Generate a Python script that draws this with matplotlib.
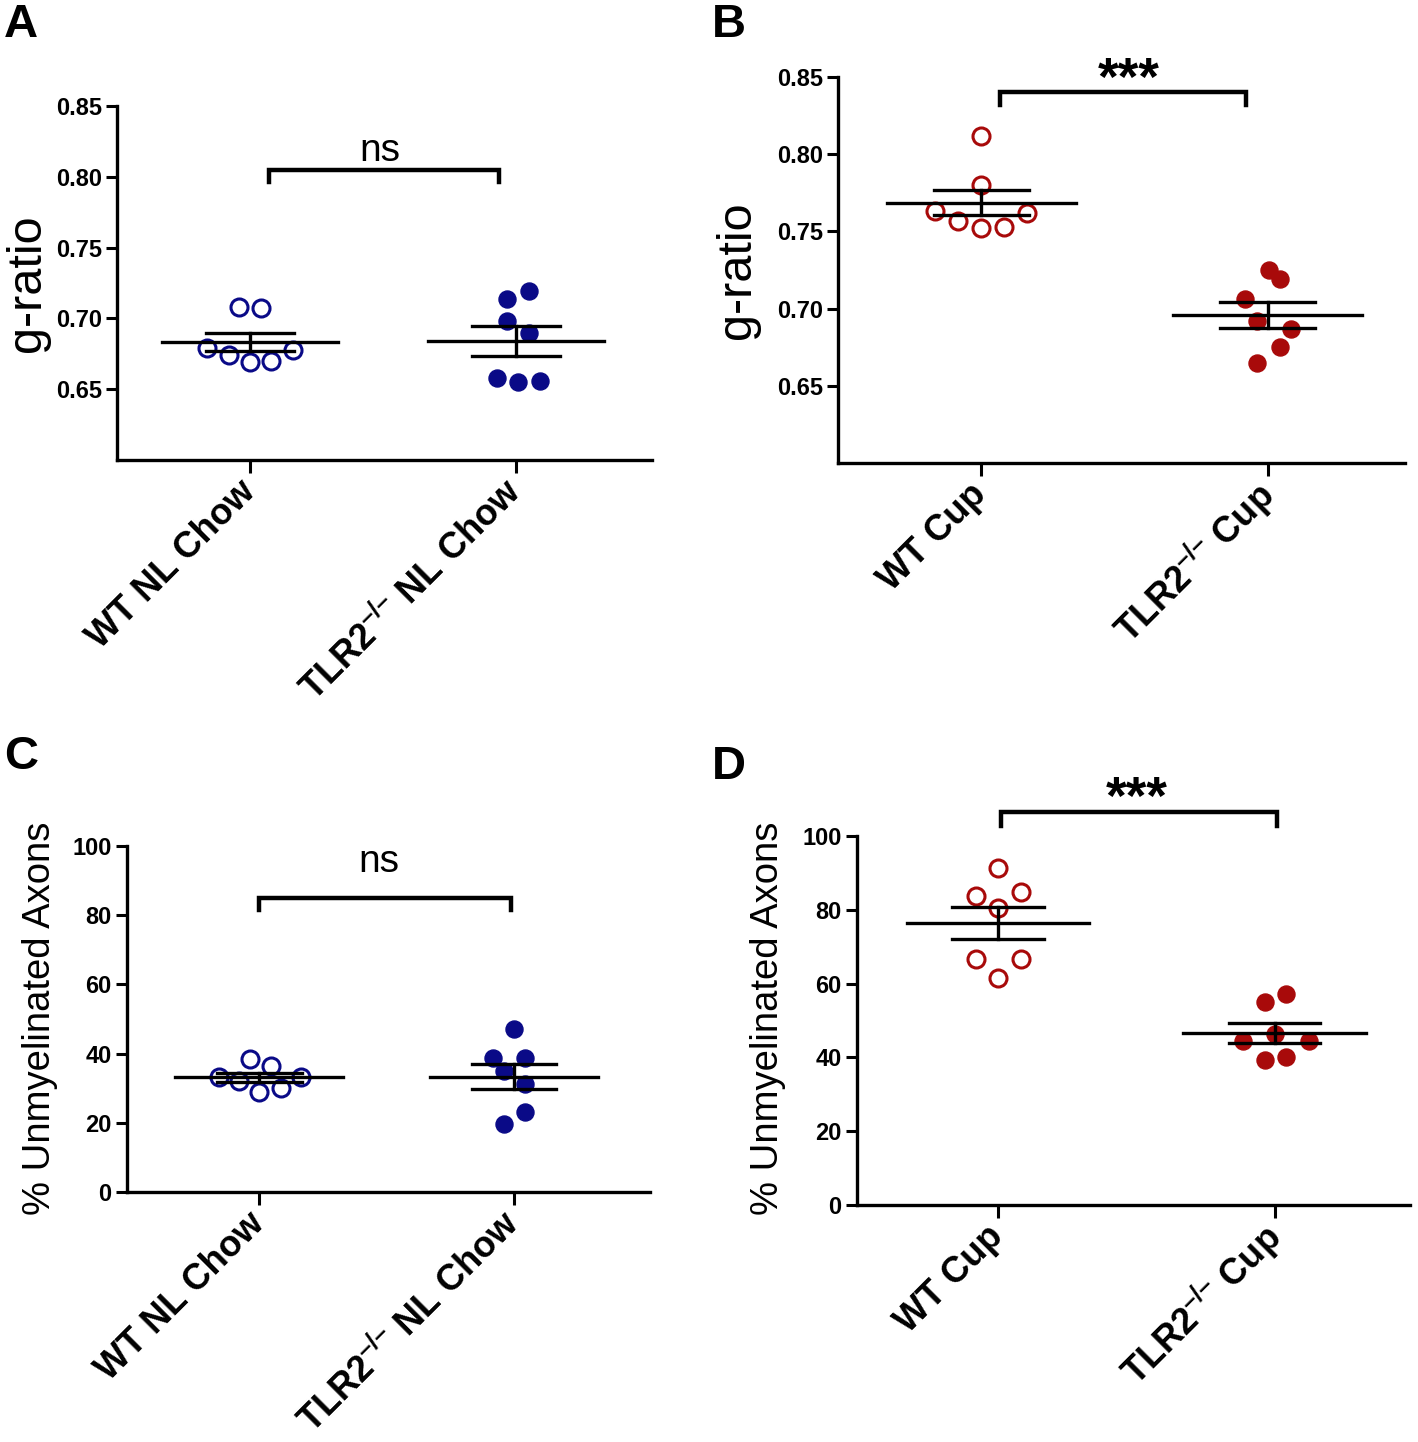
import numpy as np
import matplotlib
matplotlib.use("Agg")
import matplotlib.pyplot as plt

plt.rcParams['font.family'] = ['Liberation Sans', 'DejaVu Sans']
plt.rcParams['mathtext.fontset'] = 'custom'
plt.rcParams['mathtext.rm'] = 'Liberation Sans:bold'
plt.rcParams['mathtext.bf'] = 'Liberation Sans:bold'
plt.rcParams['mathtext.it'] = 'Liberation Sans:bold'
plt.rcParams['mathtext.default'] = 'rm'

# ---------------- data ----------------
cats_chow = ["WT NL Chow", "TLR2$^{–/–}$ NL Chow"]
cats_cup = ["WT Cup", "TLR2$^{–/–}$ Cup"]

# Panel A: g-ratio, normal chow
a_wt = [0.708, 0.707, 0.679, 0.674, 0.669, 0.670, 0.678]
a_wt_jit = [-0.04, 0.04, -0.162, -0.081, 0.0, 0.078, 0.16]
a_ko = [0.714, 0.719, 0.698, 0.690, 0.658, 0.655, 0.656]
a_ko_jit = [-0.034, 0.047, -0.034, 0.047, -0.074, 0.007, 0.088]

# Panel B: g-ratio, cuprizone
b_wt = [0.812, 0.780, 0.763, 0.757, 0.752, 0.753, 0.762]
b_wt_jit = [0.0, 0.0, -0.16, -0.081, 0.0, 0.08, 0.161]
b_ko = [0.725, 0.719, 0.706, 0.692, 0.687, 0.675, 0.665]
b_ko_jit = [0.004, 0.044, -0.078, -0.038, 0.083, 0.044, -0.038]

# Panel C: % unmyelinated axons, normal chow
c_wt = [38.3, 36.4, 33.2, 32.1, 28.9, 30.1, 33.2]
c_wt_jit = [-0.037, 0.045, -0.157, -0.078, 0.0, 0.084, 0.165]
c_ko = [47.0, 38.6, 38.6, 35.0, 31.3, 23.1, 19.6]
c_ko_jit = [0.0, -0.08, 0.044, -0.038, 0.044, 0.044, -0.038]

# Panel D: % unmyelinated axons, cuprizone
d_wt = [91.3, 83.8, 84.9, 80.4, 66.8, 66.8, 61.5]
d_wt_jit = [0.0, -0.08, 0.082, 0.0, -0.08, 0.082, 0.0]
d_ko = [54.9, 57.2, 46.4, 44.4, 44.4, 39.2, 40.0]
d_ko_jit = [-0.035, 0.043, 0.0, -0.115, 0.124, -0.035, 0.043]

BLUE = '#0A0A87'
RED = '#A80A0A'

W, H = 1418, 1442
fig = plt.figure(figsize=(W / 100, H / 100), dpi=100)


def px_axes(left, right, top, bottom):
    return fig.add_axes([left / W, 1 - bottom / H, (right - left) / W, (bottom - top) / H])


def draw_panel(ax, wt, wt_jit, ko, ko_jit, color, cats, ylim, yticks, ytlabels, xlim):
    ax.set_xlim(*xlim)
    ax.set_ylim(*ylim)
    for s in ['top', 'right']:
        ax.spines[s].set_visible(False)
    for s in ['left', 'bottom']:
        ax.spines[s].set_linewidth(2.4)
    ax.scatter(np.array(wt_jit) + 0, wt, s=150, facecolors='white', edgecolors=color,
               linewidths=2.2, zorder=2, clip_on=False)
    ax.scatter(np.array(ko_jit) + 1, ko, s=150, facecolors=color, edgecolors=color,
               linewidths=1.0, zorder=2, clip_on=False)
    for x, vals in ((0, wt), (1, ko)):
        v = np.array(vals)
        m = v.mean()
        sem = v.std(ddof=1) / np.sqrt(len(v))
        ax.plot([x - 0.33, x + 0.33], [m, m], color='black', lw=2.4, zorder=3)
        ax.plot([x - 0.166, x + 0.166], [m + sem, m + sem], color='black', lw=2.4, zorder=3)
        ax.plot([x - 0.166, x + 0.166], [m - sem, m - sem], color='black', lw=2.4, zorder=3)
        ax.plot([x, x], [m - sem, m + sem], color='black', lw=2.4, zorder=3)
    ax.set_yticks(yticks)
    ax.set_yticklabels(ytlabels, fontsize=17, fontweight='bold')
    ax.set_xticks([0, 1])
    ax.set_xticklabels(cats, fontsize=26, fontweight='bold', rotation=45,
                       ha='right', va='center', rotation_mode='anchor')
    ax.tick_params(axis='y', length=8, width=2.2, pad=3)
    ax.tick_params(axis='x', length=9, width=2.2, pad=10)


def bracket(ax, x0, x1, ytop, ybot, label, ylab, xlab, size, weight):
    ax.plot([x0, x0, x1, x1], [ybot, ytop, ytop, ybot], color='black', lw=3.2,
            clip_on=False, solid_joinstyle='miter', zorder=4)
    ax.text(xlab, ylab, label, ha='center', va='baseline', fontsize=size,
            fontweight=weight, clip_on=False)


# Panel A
axA = px_axes(117, 652, 106, 460)
draw_panel(axA, a_wt, a_wt_jit, a_ko, a_ko_jit, BLUE, cats_chow, (0.60, 0.85),
           [0.65, 0.70, 0.75, 0.80, 0.85], ['0.65', '0.70', '0.75', '0.80', '0.85'], (-0.5, 1.51))
bracket(axA, 0.072, 0.935, 0.805, 0.7965, 'ns', 0.811, 0.486, 28, 'normal')

# Panel B
axB = px_axes(838, 1405, 77, 463)
draw_panel(axB, b_wt, b_wt_jit, b_ko, b_ko_jit, RED, cats_cup, (0.60, 0.85),
           [0.65, 0.70, 0.75, 0.80, 0.85], ['0.65', '0.70', '0.75', '0.80', '0.85'], (-0.5, 1.48))
bracket(axB, 0.065, 0.925, 0.840, 0.8316, '***', 0.8385, 0.516, 38, 'bold')

# Panel C
axC = px_axes(127, 650, 846, 1192)
draw_panel(axC, c_wt, c_wt_jit, c_ko, c_ko_jit, BLUE, cats_chow, (0, 100),
           [0, 20, 40, 60, 80, 100], ['0', '20', '40', '60', '80', '100'], (-0.52, 1.535))
bracket(axC, 0.0, 0.99, 84.9, 81.5, 'ns', 92.6, 0.47, 28, 'normal')

# Panel D
axD = px_axes(857, 1410, 836, 1205)
draw_panel(axD, d_wt, d_wt_jit, d_ko, d_ko_jit, RED, cats_cup, (0, 100),
           [0, 20, 40, 60, 80, 100], ['0', '20', '40', '60', '80', '100'], (-0.51, 1.49))
bracket(axD, 0.01, 1.01, 106.5, 102.7, '***', 106.0, 0.5, 38, 'bold')

# y labels
fig.text(27 / W, 1 - 283 / H, 'g-ratio', rotation=90, ha='center', va='center', fontsize=35)
fig.text(738 / W, 1 - 270 / H, 'g-ratio', rotation=90, ha='center', va='center', fontsize=35)
fig.text(40 / W, 1 - 1018 / H, '% Unmyelinated Axons', rotation=90, ha='center', va='center', fontsize=27.5)
fig.text(768 / W, 1 - 1018 / H, '% Unmyelinated Axons', rotation=90, ha='center', va='center', fontsize=27.5)

# panel letters
for lab, x, y in (('A', 4, 3), ('B', 712, 3), ('C', 4, 735), ('D', 712, 745)):
    fig.text(x / W, 1 - y / H, lab, ha='left', va='top', fontsize=34, fontweight='bold')

fig.savefig('out.png', dpi=100)
